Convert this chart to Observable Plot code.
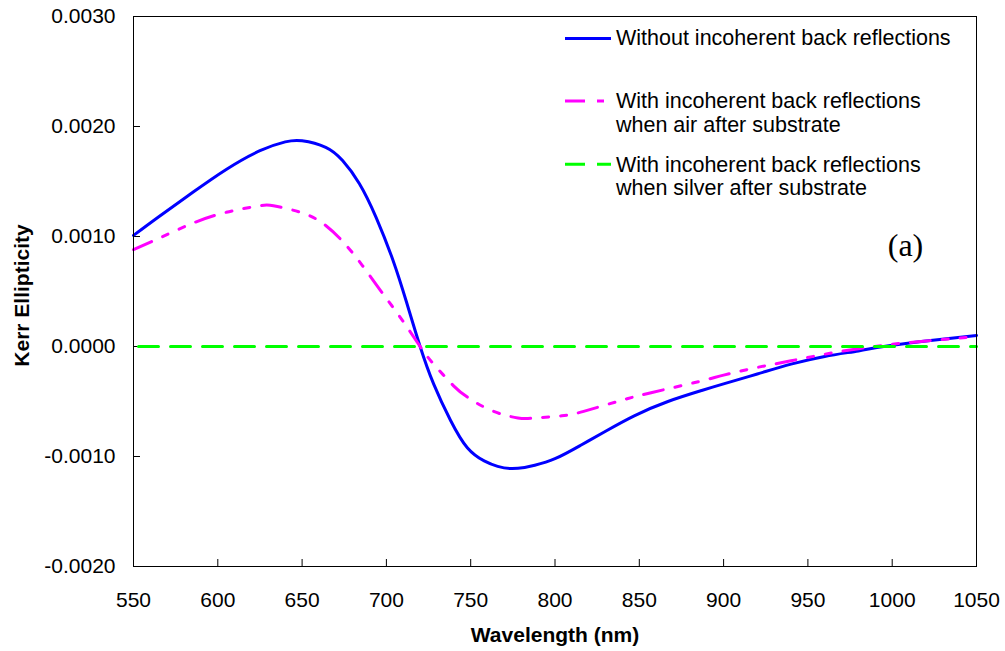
<!DOCTYPE html>
<html>
<head>
<meta charset="utf-8">
<script src="https://cdn.jsdelivr.net/npm/d3@7"></script>
<script src="https://cdn.jsdelivr.net/npm/@observablehq/plot@0.6"></script>
<style>
  html, body { margin: 0; padding: 0; background: #fff; }
  #chart { position: relative; width: 1005px; height: 651px; }
</style>
</head>
<body>
<div id="chart"></div>
<script>
// ---- data ----
const xTicks = [550, 600, 650, 700, 750, 800, 850, 900, 950, 1000, 1050];
const yTicks = [-0.002, -0.001, 0, 0.001, 0.002, 0.003];

const seriesNames = [
  "Without incoherent back reflections",
  "With incoherent back reflections\nwhen air after substrate",
  "With incoherent back reflections\nwhen silver after substrate"
];
const seriesColors = ["#0000ff", "#ff00ff", "#00ff00"];

// Without incoherent back reflections
const blueNm  = [550, 565, 585, 605, 625, 640, 650, 664, 674, 684, 694, 704, 712, 720, 728, 738, 748, 758, 766, 774, 782, 788, 800, 815, 830, 847, 867, 887, 900, 920, 940, 960, 980, 995, 1020, 1050];
const blueVal = [0.00101, 0.00118, 0.00140, 0.00161, 0.00178, 0.00186, 0.00187, 0.00181, 0.00169, 0.00148, 0.00117, 0.00078, 0.00040, 0.00000, -0.00034, -0.00067, -0.00092, -0.00104, -0.00109, -0.00111, -0.00110, -0.00108, -0.00102, -0.00090, -0.00077, -0.00063, -0.00050, -0.00040, -0.00034, -0.00025, -0.00016, -0.00009, -0.00004, 0.00000, 0.00005, 0.00010];

// With incoherent back reflections, air after substrate
const magNm  = [550, 566, 585, 605, 625, 633, 649, 664, 680, 696, 708, 720, 728, 740, 748, 762, 778, 788, 804, 817, 837, 857, 885, 900, 920, 940, 960, 980, 1000, 1020, 1050];
const magVal = [0.00088, 0.00099, 0.00112, 0.00122, 0.00128, 0.00128, 0.00122, 0.00110, 0.00085, 0.00052, 0.00027, 0.00000, -0.00016, -0.00036, -0.00046, -0.00058, -0.00065, -0.00065, -0.00063, -0.00059, -0.00050, -0.00042, -0.00032, -0.00026, -0.00019, -0.00013, -0.00007, -0.00002, 0.00002, 0.00005, 0.00009];

// With incoherent back reflections, silver after substrate
const greenNm  = [550, 1050];
const greenVal = [0, 0];

const xLabel = "Wavelength (nm)";
const yLabel = "Kerr Ellipticity";
const panelLabel = "(a)";

// ---- build tables ----
const blue = blueNm.map((x, i) => ({x, y: blueVal[i]}));
const mag = magNm.map((x, i) => ({x, y: magVal[i]}));
const green = greenNm.map((x, i) => ({x, y: greenVal[i]}));

const W = 1005, H = 651;
const mL = 133, mR = 29, mT = 16, mB = 85;
const innerW = W - mL - mR, innerH = H - mT - mB;
const FONT = "'Liberation Sans', Arial, sans-serif";

const plot = Plot.plot({
  width: W,
  height: H,
  marginLeft: mL,
  marginRight: mR,
  marginTop: mT,
  marginBottom: mB,
  style: { fontFamily: FONT, fontSize: "21px", background: "#fff", color: "#000" },
  x: { domain: [550, 1050] },
  y: { domain: [-0.002, 0.003] },
  marks: [
    Plot.axisX({ ticks: xTicks, tickFormat: d => String(d), tickSize: 0, tickPadding: 26, label: null, fontSize: 21 }),
    Plot.axisY({ ticks: yTicks, tickFormat: d => d.toFixed(4), tickSize: 0, tickPadding: 18, label: null, fontSize: 21 }),
    Plot.tickX(xTicks, { x: d => d, stroke: "#000", strokeWidth: 1, insetTop: innerH - 7 }),
    Plot.tickY(yTicks, { y: d => d, stroke: "#000", strokeWidth: 1, insetRight: innerW - 7 }),
    Plot.line(blue, { x: "x", y: "y", stroke: seriesColors[0], strokeWidth: 3, curve: "natural" }),
    Plot.line(mag, { x: "x", y: "y", stroke: seriesColors[1], strokeWidth: 3, curve: "natural", strokeDasharray: "20,12,6,12,6,12" }),
    Plot.line(green, { x: "x", y: "y", stroke: seriesColors[2], strokeWidth: 3, strokeDasharray: "20,12", strokeDashoffset: -5 }),
    Plot.frame({ stroke: "#000", strokeWidth: 1 }),
    Plot.text([xLabel], { frameAnchor: "bottom", text: d => d, dy: 75, lineAnchor: "bottom", textAnchor: "middle", fontWeight: "bold", fontSize: 21, fill: "#000" }),
    Plot.text([yLabel], { frameAnchor: "left", text: d => d, dx: -105, dy: 4, rotate: -90, lineAnchor: "bottom", textAnchor: "middle", fontWeight: "bold", fontSize: 21, fill: "#000" }),
    Plot.text([panelLabel], { frameAnchor: "top-left", text: d => d, dx: 772, dy: 239, lineAnchor: "bottom", textAnchor: "middle", fontFamily: "'Liberation Serif', 'Times New Roman', serif", fontSize: 32, fill: "#000" })
  ]
});

document.getElementById("chart").appendChild(plot);

// ---- legend (inside plot area, upper right) ----
const svg = d3.select(plot);
const leg = svg.append("g")
  .attr("font-family", FONT).attr("font-size", 21.5).attr("fill", "#000")
  .attr("text-anchor", "start");
const swatchY = [38.5, 101, 164.3];
const baselines = [[45], [108.3, 131.7], [171.5, 194.8]];
const dashes = [null, "20,12,7,12", "20,12"];
seriesNames.forEach((name, i) => {
  const ln = leg.append("line")
    .attr("x1", 565).attr("x2", 611)
    .attr("y1", swatchY[i]).attr("y2", swatchY[i])
    .attr("stroke", seriesColors[i]).attr("stroke-width", 3);
  if (dashes[i]) ln.attr("stroke-dasharray", dashes[i]);
  name.split("\n").forEach((t, j) => {
    leg.append("text").attr("x", 616).attr("y", baselines[i][j])
      .attr("text-anchor", "start").text(t);
  });
});
</script>
</body>
</html>
